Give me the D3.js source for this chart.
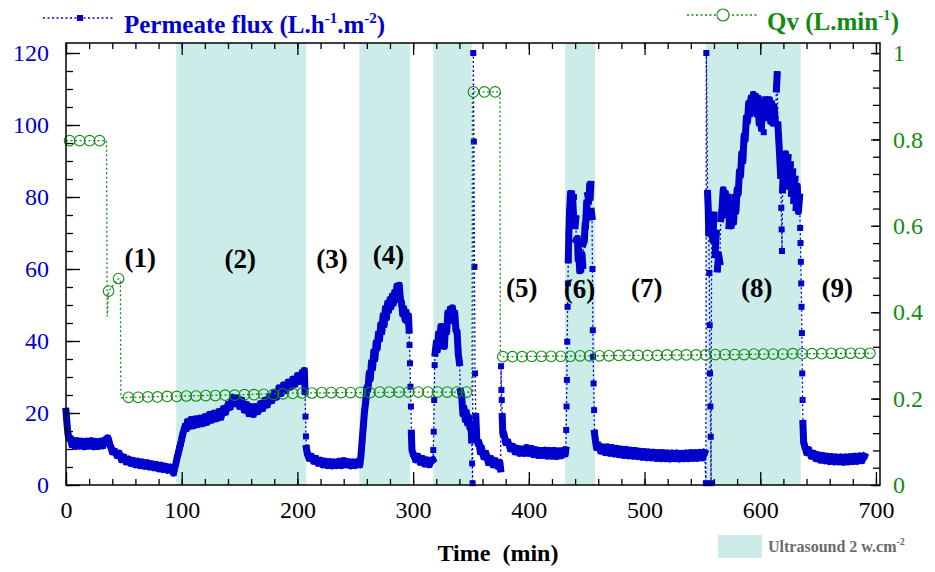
<!DOCTYPE html>
<html><head><meta charset="utf-8">
<script src="https://cdn.jsdelivr.net/npm/d3@7"></script>
<style>
html,body{margin:0;padding:0;background:#fff;}
svg{display:block;}
text{font-family:"Liberation Serif","Times New Roman",serif;}
</style></head>
<body>
<svg id="chart" width="935" height="572"></svg>
<script>
// ---------------- DATA ----------------
const xTickLabels = [0,100,200,300,400,500,600,700];
const yLeftTickLabels = [0,20,40,60,80,100,120];
const yRightTickLabels = [0,0.2,0.4,0.6,0.8,1];

// ultrasound periods (min)
const ultrasoundStart = [95.3, 253.5, 317.5, 431.3, 553.1];
const ultrasoundEnd   = [207.6, 297.3, 350.6, 457.3, 635.0];

// step labels
const stepLabels = ["(1)","(2)","(3)","(4)","(5)","(6)","(7)","(8)","(9)"];
const stepLabelTime = [64.2,150.6,229.8,278.7,393.9,443.7,501.9,596.9,666.6];
const stepLabelFlux = [60.6,60.3,60.3,61.4,52.2,51.9,52.2,52.2,52.2];

// permeate flux [time (min), flux (L.h-1.m-2)]
const fluxPoints = [
[0,20.5],[0.5,18.5],[1,16.5],[1.5,14.8],[2,13.6],[3,12.8],[4,12.9],[5,11.2],[6,12.4],[8,10.7],[10,12.3],[12,10.8],[14,12.2],[16,10.6],[18,12.2],[20,10.8],[22,12.3],[24,10.6],[26,12.1],[28,10.7],[30,12.2],[32,10.9],[34,12.6],[36,13.1],[37,12.4],[38,11.0],[39,10.4],[40,9.2],[42,9.4],[44,8.2],[46,8.8],[48,7.0],[50,7.8],[52,6.4],[54,7.2],[56,6.0],[58,6.8],[60,5.6],[62,6.6],[64,5.4],[66,6.4],[68,5.2],[70,6.2],[72,5.0],[74,5.9],[76,4.8],[78,5.7],[80,4.5],[82,5.5],[84,4.3],[86,5.2],[88,4.1],[90,5.0],[92,4.0],[93,3.3],[94,4.8],
[95,6.0],[96,7.6],[97,8.8],[98,10.2],[99,11.4],[100,12.8],[101,14.2],[102,15.4],[103,16.4],[104,15.6],[105,17.6],[106,16.2],[108,18.2],[110,16.4],[112,18.4],[114,16.8],[116,18.6],[118,17.0],[120,19.0],[122,17.4],[124,19.6],[126,18.0],[128,20.0],[130,18.4],[132,20.4],[134,18.8],[136,21.2],[138,20.2],[140,22.4],[142,21.6],[144,24.4],[146,22.6],[148,24.2],[150,21.8],[152,23.6],[154,20.8],[156,22.4],[158,19.8],[160,21.8],[162,19.6],[164,21.8],[166,20.4],[168,22.6],[170,21.2],[172,23.6],[174,22.2],[176,24.6],[178,23.4],[180,25.6],[182,24.4],[184,27.0],[186,25.4],[188,27.8],[190,26.2],[192,28.6],[194,27.2],[196,29.4],[198,28.0],[200,30.4],[202,28.8],[204,31.2],[205,29.8],[206,31.8],
[206.6,26],[207,19],[207.4,13.5],[207.8,10.2],[208.5,8.8],[210,7.4],[212,8.0],[214,6.6],[216,7.4],[218,6.0],[220,6.9],[222,5.6],[224,6.6],[226,5.4],[228,6.5],[230,5.3],[232,6.4],[234,5.4],[236,6.6],[238,5.4],[240,6.8],[242,5.6],[244,6.5],[246,5.3],[248,6.4],[250,5.4],[252,6.5],[254,5.6],
[255,8.5],[256,12.5],[257,16.5],[258,20.5],[259,23],[260,27],[261,26.5],[262,31],[263,29.5],[264,34],[265,32.5],[266,37],[267,35],[268,39.5],[269,38],[270,42],[271,40.5],[272,44.5],[273,42.5],[274,47],[275,44.5],[276,49],[277,46.5],[278,50.5],[279,48.5],[280,51.5],[281,49.5],[282,52.5],[283,50.5],[284,53.5],[285,51.5],[286,55.2],[287,53],[288,55.5],[289,51.5],[290,50.5],[291,47.5],[292,49],[293,46],[294,48],[295,45.5],[296,47],
[296.5,43],[296.9,38.9],[297.3,33.8],[297.7,27.3],[298.1,21.8],[298.5,14.4],[299,9.7],[300,8.6],[302,7.0],[304,8.0],[306,6.3],[308,7.4],[310,5.8],[312,7.0],[314,5.6],[316,6.8],
[317,7.0],[317.4,9.7],[317.8,14.8],[318.2,23.6],[318.6,33.3],[319,36.6],[320,39.5],[321,37.5],[322,42],[323,39.5],[324,44],[325,40.5],[326,42.5],[327,38.5],[328,44],[329,42.5],[330,47.8],[331,45.6],[332,48.8],[333,46.6],[334,49.2],[335,45.6],[336,47.8],[337,43],[338,42.5],[339,36.5],[340,34],[341,26],[342,24.5],[343,19.8],[344,21.4],[345,18.2],[346,20.2],[347,17.2],[348,18.8],[349,16.0],[350,16.5],[350.6,12.5],[351,6],[351.4,0.5],[352,120],[352.5,95.4],[353,60.6],[353.5,31],[354.2,19],[355,13],[356,11.5],[357,11.8],[358,9.2],[359,10.4],[361,7.8],[363,8.8],[365,6.2],[367,7.4],[369,5.6],[371,6.8],[373,5.2],[375,6.2],
[375.6,4.5],[376,33],[376.3,26.4],[376.6,23.6],[377,19],[377.5,14.4],[378.5,14.2],[380,11.8],[382,12.0],[384,10.0],[386,10.8],[388,9.2],[390,10.2],[392,8.8],[394,10.0],[396,8.8],[398,10.4],[400,8.8],[402,10.2],[404,8.4],[406,9.8],[408,8.2],[410,9.6],[412,8.2],[414,9.7],[416,8.0],[418,9.6],[420,8.0],[422,9.6],[424,7.9],[426,9.5],[428,8.1],[430,9.6],[431.5,8.6],
[432,9.7],[432.3,15.3],[432.6,21.8],[432.9,29.2],[433.2,39.8],[433.5,49.5],[433.8,56],[434.1,62.5],[434.6,70],[435.2,76],[436,81],[436.6,77],[437,80.8],[437.6,76],[438,79],[438.6,75],[439,80],[440,72],[440.6,74],[441,68],[442,68.5],[442.6,63],[443,65],[444,59.5],[444.6,63],[445,60],[446,64],[446.6,61],[447,67],[448,68],[448.6,72],[449,72],[450,78.5],[450.6,75],[451,80.5],[452,79],[452.6,83],[453,80],[453.6,83.5],[454,76],[454.6,74.5],[455,60],[455.3,43],[455.6,35.6],[456,28.2],[456.4,20.8],[456.8,14.4],[457.5,12.4],[458.5,10.4],[460,11.2],[462,9.4],[464,10.6],
[466,9.0],[468,10.6],[470,8.8],[472,10.4],[474,8.6],[476,10.2],[478,8.4],[480,10.0],[482,8.2],[484,9.9],[486,8.1],[488,9.7],[490,8.0],[492,9.6],[494,7.9],[496,9.4],[498,7.7],[500,9.3],[502,7.6],[504,9.2],[506,7.5],[508,9.1],[510,7.4],[512,9.0],[514,7.3],[516,9.0],[518,7.3],[520,8.9],[522,7.2],[524,8.9],[526,7.3],[528,8.9],[530,7.2],[532,8.8],[534,7.3],[536,8.9],[538,7.3],[540,9.0],[542,7.4],[544,9.0],[546,7.4],[548,9.1],[550,7.5],[552,9.0],
[553,0.5],[553.4,120],[554.5,81],[555,77],[555.5,70],[556,58.9],[556.3,44.4],[556.6,31],[556.9,21.8],[557.2,13.4],[557.5,0.5],[558,73],
[559,68],[560,75],[561,64],[562,70],[563,60],[564,64],[565,62],[566,74],[567,77],[568,82],[569,75],[570,81],[571,76],[572,80],[573,72],[574,78],[575,72],[576,77],[577,73],[578,80],[579,76],[580,82],[581,81],[582,87],[583,86],[584,92],[585,90],[586,97],[587,96],[588,102],[589,101],[590,106],[591,103],[592,107.5],[593,104],[594,108.5],[595,105],[596,108],[597,103],[598,107.5],[599,100.5],[600,105],[601,99],[602,106],[603,98],[604,107],[605,102],[606,107],[607,102.5],[608,107],[609,101],[610,106],[611,100.5],[612,105],[613,101],[614,110],[614.6,114],[615.3,100],[616,96],[617,90],[617.6,86],[618.2,77],[618.5,71],[618.8,65],[619.3,82],[620,88],[621,85],[622,92],[623,86],[624,91],[625,83],[626,89],[627,81],[628,87],[629,79],[630,85],[631,77],[632,83],[633,76],[634,80],
[634.5,71.4],[634.8,67.2],[635.1,62],[635.4,56],[635.7,49.5],[636,42.2],[636.3,31],[636.6,23.6],[636.9,17.1],[637.5,12],[638.5,10.6],[640,9.0],[642,9.8],[644,8.0],[646,8.8],[648,7.3],[650,8.4],[652,6.9],[654,8.2],[656,6.7],[658,8.0],[660,6.5],[662,7.9],[664,6.4],[666,7.8],[668,6.4],[670,7.8],[672,6.3],[674,7.8],[676,6.4],[678,7.9],[680,6.5],[682,8.0],[684,6.6],[686,8.1],[688,6.8],[690,8.0]
];

// Qv line [time (min), Qv (L.min-1)]
const qvLine = [
[0,0.797],[35,0.797],[35.6,0.39],[36.8,0.449],[45.4,0.478],[47,0.474],[47.4,0.202],[54,0.203],
[100,0.206],[150,0.209],[200,0.213],[250,0.214],[300,0.215],[346.2,0.215],[350.8,0.215],[351.2,0.91],[375,0.91],[375.4,0.299],
[377.5,0.297],[450,0.299],[550,0.301],[650,0.304],[697,0.305]
];
// Qv markers
const qvMarkTime = [3.1,11.8,20.4,29.0,36.8,45.4,
54.0,62.3,70.7,79.0,87.4,95.7,104.0,112.4,120.8,129.1,137.5,145.8,154.2,162.5,170.9,179.2,187.6,195.9,204.3,212.6,221.0,229.3,237.7,246.0,254.4,262.7,271.1,279.4,287.8,296.1,304.5,312.8,321.2,329.5,337.9,346.2,
352.1,361.6,370.9,
377.5,385.8,394.2,402.5,410.9,419.2,427.6,435.9,444.3,452.6,461.0,469.3,477.7,486.0,494.4,502.7,511.1,519.4,527.8,536.1,544.5,552.8,561.2,569.5,577.9,586.2,594.6,602.9,611.3,619.6,628.0,636.3,644.7,653.0,661.4,669.7,678.1,686.4,694.8];
const qvMarkValue = [0.797,0.797,0.797,0.797,0.449,0.478,
0.203,0.203,0.204,0.204,0.205,0.205,0.206,0.206,0.207,0.207,0.208,0.208,0.209,0.209,0.210,0.210,0.211,0.212,0.213,0.213,0.214,0.214,0.214,0.214,0.214,0.214,0.215,0.215,0.215,0.215,0.215,0.215,0.215,0.215,0.215,0.215,
0.910,0.910,0.910,
0.297,0.297,0.297,0.298,0.298,0.298,0.298,0.298,0.299,0.299,0.299,0.299,0.300,0.300,0.300,0.300,0.300,0.301,0.301,0.301,0.301,0.301,0.302,0.302,0.302,0.302,0.303,0.303,0.303,0.303,0.304,0.304,0.304,0.304,0.305,0.305,0.305,0.305,0.305];

// ---------------- CHART ----------------
const BLUE = "#0000cc", GREEN = "#138a13", SHADE = "#cbece8";
const L = 66, R = 880, T = 43, B = 485;
const svg = d3.select("#chart");

const x = d3.scaleLinear().domain([0, 703.5]).range([L, R]);
const yL = d3.scaleLinear().domain([0, 122.78]).range([B, T]);
const yR = d3.scaleLinear().domain([0, 1.0232]).range([B, T]);

// shading
svg.append("g").selectAll("rect").data(ultrasoundStart).join("rect")
  .attr("x", d => x(d)).attr("y", T)
  .attr("width", (d,i) => x(ultrasoundEnd[i]) - x(d)).attr("height", B - T)
  .attr("fill", SHADE);

// flux line (dotted) + dense band + squares
const fluxLine = d3.line().x(d => x(d[0])).y(d => yL(d[1]));
svg.append("path").datum(fluxPoints).attr("d", fluxLine)
  .attr("fill","none").attr("stroke",BLUE).attr("stroke-width",1.3)
  .attr("stroke-dasharray","2,2.5");
// continuous runs of densely-sampled points render as a solid band of markers
const runs = [];
let cur = [fluxPoints[0]];
for (let i = 1; i < fluxPoints.length; i++) {
  const p = fluxPoints[i], q = fluxPoints[i-1];
  if (p[0] - q[0] >= 0.5 && Math.abs(yL(p[1]) - yL(q[1])) < 28) cur.push(p);
  else { runs.push(cur); cur = [p]; }
}
runs.push(cur);
svg.append("g").selectAll("path").data(runs.filter(r => r.length > 1)).join("path")
  .attr("d", fluxLine).attr("fill","none").attr("stroke",BLUE)
  .attr("stroke-width",7).attr("stroke-linejoin","round").attr("stroke-linecap","square");
svg.append("g").selectAll("rect").data(fluxPoints).join("rect")
  .attr("x", d => x(d[0]) - 3).attr("y", d => yL(d[1]) - 3)
  .attr("width", 6).attr("height", 6).attr("fill", BLUE);

// Qv
const qvL = d3.line().x(d => x(d[0])).y(d => yR(d[1]));
svg.append("path").datum(qvLine).attr("d", qvL)
  .attr("fill","none").attr("stroke",GREEN).attr("stroke-width",1.3)
  .attr("stroke-dasharray","2,2.5");
svg.append("g").selectAll("circle").data(qvMarkTime).join("circle")
  .attr("cx", d => x(d)).attr("cy", (d,i) => yR(qvMarkValue[i])).attr("r", 5.3)
  .attr("fill","none").attr("stroke",GREEN).attr("stroke-width",1.1);

// axes: minor ticks
const xMinor = d3.range(0, 701, 20);
const yLMinor = d3.range(0, 121, 5);
const yRMinor = d3.range(0, 1.001, 0.04);

function styleAxis(g){
  g.select(".domain").remove();
  g.selectAll(".tick line").attr("stroke","#000").attr("stroke-width",1.3);
}
svg.append("g").attr("transform",`translate(0,${B})`)
  .call(d3.axisBottom(x).tickValues(xMinor).tickSizeInner(-6).tickSizeOuter(0).tickFormat(""))
  .call(styleAxis);
svg.append("g").attr("transform",`translate(0,${B})`)
  .call(d3.axisBottom(x).tickValues(xTickLabels).tickSizeInner(-13).tickSizeOuter(0).tickPadding(16))
  .call(styleAxis)
  .call(g => g.selectAll("text").attr("font-size",24).attr("fill","#000")
    .style("font-family",'"Liberation Serif",serif'));
svg.append("g").attr("transform",`translate(0,${T})`)
  .call(d3.axisTop(x).tickValues(xMinor).tickSizeInner(-6).tickSizeOuter(0).tickFormat(""))
  .call(styleAxis);
svg.append("g").attr("transform",`translate(0,${T})`)
  .call(d3.axisTop(x).tickValues(xTickLabels).tickSizeInner(-12).tickSizeOuter(0).tickFormat(""))
  .call(styleAxis);

svg.append("g").attr("transform",`translate(${L},0)`)
  .call(d3.axisLeft(yL).tickValues(yLMinor).tickSizeInner(-7).tickSizeOuter(0).tickFormat(""))
  .call(styleAxis);
svg.append("g").attr("transform",`translate(${L},0)`)
  .call(d3.axisLeft(yL).tickValues(yLeftTickLabels).tickSizeInner(-14).tickSizeOuter(0).tickPadding(17))
  .call(styleAxis)
  .call(g => g.selectAll("text").attr("font-size",24).attr("fill",BLUE)
    .style("font-family",'"Liberation Serif",serif'));

svg.append("g").attr("transform",`translate(${R},0)`)
  .call(d3.axisRight(yR).tickValues(yRMinor).tickSizeInner(-7).tickSizeOuter(0).tickFormat(""))
  .call(styleAxis);
svg.append("g").attr("transform",`translate(${R},0)`)
  .call(d3.axisRight(yR).tickValues(yRightTickLabels).tickSizeInner(-9).tickSizeOuter(0).tickPadding(13).tickFormat(d3.format("~g")))
  .call(styleAxis)
  .call(g => g.selectAll("text").attr("font-size",24).attr("fill",GREEN)
    .style("font-family",'"Liberation Serif",serif'));

// frame
svg.append("rect").attr("x",L).attr("y",T).attr("width",R-L).attr("height",B-T)
  .attr("fill","none").attr("stroke","#000").attr("stroke-width",1.5);

// step labels
svg.append("g").selectAll("text").data(stepLabels).join("text")
  .attr("x",(d,i)=>x(stepLabelTime[i])).attr("y",(d,i)=>yL(stepLabelFlux[i]))
  .attr("text-anchor","middle").attr("font-weight","bold").attr("font-size",27)
  .attr("fill","#000").text(d=>d);

// x title
svg.append("text").attr("x",498).attr("y",561).attr("text-anchor","middle")
  .attr("font-weight","bold").attr("font-size",24).style("white-space","pre")
  .text("Time  (min)");

// legend: flux
svg.append("line").attr("x1",43).attr("x2",113).attr("y1",18).attr("y2",18)
  .attr("stroke",BLUE).attr("stroke-width",1.3).attr("stroke-dasharray","2,2.5");
svg.append("rect").attr("x",77).attr("y",15).attr("width",6).attr("height",6).attr("fill",BLUE);
const t1 = svg.append("text").attr("x",124).attr("y",33).attr("font-weight","bold")
  .attr("font-size",25).attr("fill",BLUE);
t1.append("tspan").text("Permeate flux (L.h");
t1.append("tspan").attr("dy",-10).attr("font-size",15).text("-1");
t1.append("tspan").attr("dy",10).text(".m");
t1.append("tspan").attr("dy",-10).attr("font-size",15).text("-2");
t1.append("tspan").attr("dy",10).text(")");

// legend: Qv
svg.append("line").attr("x1",687).attr("x2",758).attr("y1",15).attr("y2",15)
  .attr("stroke",GREEN).attr("stroke-width",1.3).attr("stroke-dasharray","2,2.5");
svg.append("circle").attr("cx",723).attr("cy",15).attr("r",6)
  .attr("fill","#fff").attr("stroke",GREEN).attr("stroke-width",1.1);
const t2 = svg.append("text").attr("x",767).attr("y",30).attr("font-weight","bold")
  .attr("font-size",25).attr("fill",GREEN);
t2.append("tspan").text("Qv (L.min");
t2.append("tspan").attr("dy",-10).attr("font-size",15).text("-1");
t2.append("tspan").attr("dy",10).text(")");

// legend: ultrasound
svg.append("rect").attr("x",718).attr("y",535).attr("width",44).attr("height",23).attr("fill",SHADE);
const t3 = svg.append("text").attr("x",768).attr("y",552).attr("font-weight","bold")
  .attr("font-size",16).attr("fill","#6b6b6b");
t3.append("tspan").text("Ultrasound 2 w.cm");
t3.append("tspan").attr("dy",-7).attr("font-size",10).text("-2");
</script>
</body></html>
